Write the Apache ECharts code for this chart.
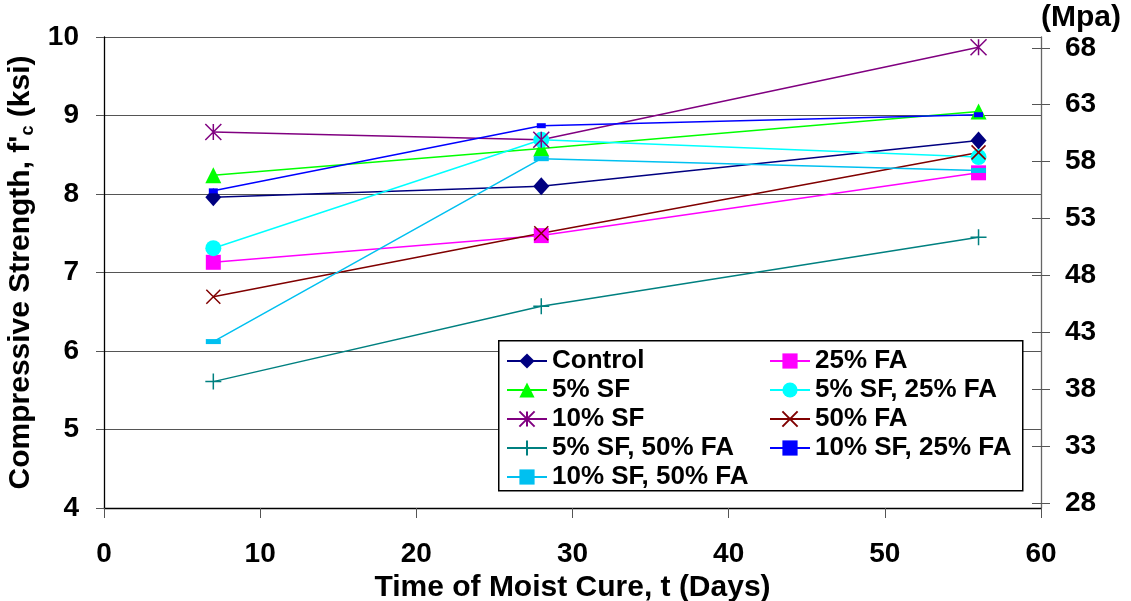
<!DOCTYPE html>
<html><head><meta charset="utf-8">
<script src="https://cdn.jsdelivr.net/npm/echarts@6/dist/echarts.min.js"></script>
<style>html,body{margin:0;padding:0;background:#fff}#c{width:1131px;height:601px}</style>
</head><body><div id="c"></div>
<script>
// ---- data ----
const days = [7, 28, 56];
const control      = [7.96, 8.10, 8.68];
const fa25         = [7.13, 7.47, 8.27];
const sf5          = [8.24, 8.58, 9.05];
const sf5fa25      = [7.31, 8.69, 8.47];
const sf10         = [8.79, 8.69, 9.87];
const fa50         = [6.69, 7.50, 8.53];
const sf5fa50      = [5.61, 6.57, 7.45];
const sf10fa25     = [8.04, 8.87, 9.01];
const sf10fa50     = [6.12, 8.45, 8.30];
const xTicks = [0, 10, 20, 30, 40, 50, 60];
const ksiTicks = [4, 5, 6, 7, 8, 9, 10];
const mpaTicks = [28, 33, 38, 43, 48, 53, 58, 63, 68];
const KSI_TO_MPA = 6.89476;

const FONT = "'Liberation Sans', Arial, sans-serif";
const pts = v => days.map((d, i) => [d, v[i]]);

const defs = [
  {name: 'Control', data: control, color: '#000080', symbol: 'diamond', size: [16, 18]},
  {name: '25% FA', data: fa25, color: '#FF00FF', symbol: 'rect', size: 15},
  {name: '5% SF', data: sf5, color: '#00FF00', symbol: 'triangle', size: 16},
  {name: '5% SF, 25% FA', data: sf5fa25, color: '#00FFFF', symbol: 'circle', size: 16},
  {name: '10% SF', data: sf10, color: '#800080', symbol: 'path://M0,0L20,20M20,0L0,20M10,0L10,20', size: 16, stroke: true},
  {name: '50% FA', data: fa50, color: '#800000', symbol: 'path://M0,0L20,20M20,0L0,20', size: 14, stroke: true},
  {name: '5% SF, 50% FA', data: sf5fa50, color: '#008080', symbol: 'path://M10,0L10,20M0,10L20,10', size: 16, stroke: true},
  {name: '10% SF, 25% FA', data: sf10fa25, color: '#0000FF', symbol: 'rect', size: [9, 5]},
  {name: '10% SF, 50% FA', data: sf10fa50, color: '#00C0F0', symbol: 'rect', size: [15, 5]}
];

const series = defs.map(d => ({
  name: d.name,
  type: 'line',
  xAxisIndex: 0, yAxisIndex: 0,
  data: pts(d.data),
  symbol: d.symbol,
  symbolSize: d.size,
  showAllSymbol: true,
  lineStyle: {color: d.color, width: 1.5},
  itemStyle: d.stroke
    ? {color: d.color, borderColor: d.color, borderWidth: 1.5}
    : {color: d.color, borderWidth: 0},
  emphasis: {disabled: true},
  animation: false,
  z: 3
}));

const legendText = {fontFamily: FONT, fontWeight: 'bold', fontSize: 26, color: '#000', lineHeight: 26};
const chart = echarts.init(document.getElementById('c'), null, {renderer: 'canvas'});
chart.setOption({
  backgroundColor: '#fff',
  animation: false,
  grid: {left: 104, right: 90, top: 37, bottom: 93, containLabel: false, outerBoundsMode: 'none'},
  xAxis: {
    type: 'value', min: 0, max: 60, interval: 10,
    name: 'Time of Moist Cure, t (Days)', nameLocation: 'middle', nameGap: 56,
    nameTextStyle: {fontFamily: FONT, fontWeight: 'bold', fontSize: 30, color: '#000'},
    axisLine: {show: true, onZero: false, lineStyle: {color: '#000', width: 1.3}},
    axisTick: {show: true, length: 10, lineStyle: {color: '#555'}},
    axisLabel: {fontFamily: FONT, fontWeight: 'bold', fontSize: 28, color: '#000', margin: 32},
    splitLine: {show: false}
  },
  yAxis: [
    {
      type: 'value', min: 4, max: 10, interval: 1, position: 'left',
      name: "{a|Compressive Strength, f'}{s|c}{a| (ksi)}", nameLocation: 'middle', nameGap: 61,
      nameTextStyle: {rich: {
        a: {fontFamily: FONT, fontWeight: 'bold', fontSize: 30, color: '#000'},
        s: {fontFamily: FONT, fontWeight: 'bold', fontSize: 18, color: '#000', padding: [15, 0, 0, 0]}
      }},
      axisLine: {show: true, lineStyle: {color: '#000', width: 1.3}},
      axisTick: {show: true, length: 8, lineStyle: {color: '#555'}},
      axisLabel: {fontFamily: FONT, fontWeight: 'bold', fontSize: 28, color: '#000', margin: 25},
      splitLine: {show: true, lineStyle: {color: '#555', width: 1.2}}
    },
    {
      type: 'value', min: 4 * KSI_TO_MPA, max: 10 * KSI_TO_MPA, position: 'right',
      name: '(Mpa)', nameLocation: 'end', nameGap: 4,
      nameTextStyle: {fontFamily: FONT, fontWeight: 'bold', fontSize: 30, color: '#000', align: 'left', verticalAlign: 'bottom'},
      axisLine: {show: true, lineStyle: {color: '#666', width: 1.3}},
      axisTick: {show: true, length: 9, customValues: mpaTicks, lineStyle: {color: '#555'}},
      axisLabel: {customValues: mpaTicks, fontFamily: FONT, fontWeight: 'bold', fontSize: 28, color: '#000', margin: 24},
      splitLine: {show: false}
    },
    {
      type: 'value', min: 4 * KSI_TO_MPA, max: 10 * KSI_TO_MPA, position: 'right',
      axisLine: {show: false},
      axisTick: {show: true, inside: true, length: 9, customValues: mpaTicks, lineStyle: {color: '#555'}},
      axisLabel: {show: false},
      splitLine: {show: false}
    }
  ],
  graphic: [{
    type: 'rect', left: 498, top: 340, z: 4,
    shape: {width: 524, height: 150},
    style: {fill: '#fff', stroke: '#000', lineWidth: 1.5}
  }],
  legend: [
    {
      orient: 'vertical', left: 501, top: 343, z: 5,
      itemWidth: 40, itemHeight: 19, itemGap: 3,
      textStyle: legendText,
      data: ['Control', '5% SF', '10% SF', '5% SF, 50% FA', '10% SF, 50% FA']
    },
    {
      orient: 'vertical', left: 764, top: 343, z: 5,
      itemWidth: 40, itemHeight: 19, itemGap: 3,
      textStyle: legendText,
      data: ['25% FA', '5% SF, 25% FA', '50% FA', '10% SF, 25% FA']
    }
  ],
  series: series
});
</script>
</body></html>
